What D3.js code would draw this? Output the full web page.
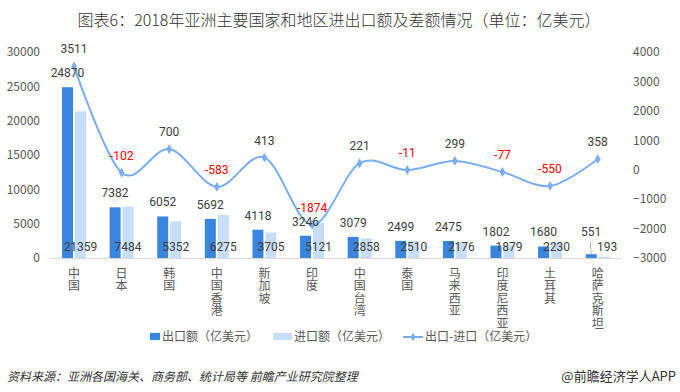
<!DOCTYPE html>
<html><head><meta charset="utf-8">
<script src="https://cdn.jsdelivr.net/npm/d3@7/dist/d3.min.js"></script>
<style>
body{margin:0;background:#fff;}
svg{display:block;font-family:"Noto Sans CJK SC","Noto Sans",sans-serif;}
.vt{writing-mode:vertical-rl;text-orientation:upright;}
</style></head>
<body>
<svg id="c" width="680" height="392"></svg>
<script>
const categories = ["中国","日本","韩国","中国香港","新加坡","印度","中国台湾","泰国","马来西亚","印度尼西亚","土耳其","哈萨克斯坦"];
const exportVals = [24870,7382,6052,5692,4118,3246,3079,2499,2475,1802,1680,551];
const importVals = [21359,7484,5352,6275,3705,5121,2858,2510,2176,1879,2230,193];
const balanceVals = [3511,-102,700,-583,413,-1874,221,-11,299,-77,-550,358];
const leftTicks = [0,5000,10000,15000,20000,25000,30000];
const rightTicks = [-3000,-2000,-1000,0,1000,2000,3000,4000];
const seriesNames = ["出口额（亿美元）","进口额（亿美元）","出口-进口（亿美元）"];
const titleText = "图表6：2018年亚洲主要国家和地区进出口额及差额情况（单位：亿美元）";
const sourceText = "资料来源：亚洲各国海关、商务部、统计局等 前瞻产业研究院整理";
const brandText = "@前瞻经济学人APP";

const C_EXP = "#3B84E0", C_IMP = "#C6DEF9", C_LINE = "#7AADEE", C_TXT = "#595959";
const NUM_FONT = "Roboto, 'Liberation Sans', sans-serif";
const svg = d3.select("#c");
const plotTop = 52, plotBottom = 258;
const x = d3.scaleBand().domain(categories).range([50.2, 621.5]).padding(0);
const yL = d3.scaleLinear().domain([0,30000]).range([plotBottom, plotTop]);
const yR = d3.scaleLinear().domain([-3000,4000]).range([plotBottom, plotTop]);
const bw = 11, gap = 2;

// title
svg.append("text").attr("x", 339).attr("y", 26).attr("text-anchor","middle")
  .attr("font-size", 16).attr("fill", "#333").attr("font-weight", 300).text(titleText);

// axes
const axL = svg.append("g").attr("transform", "translate(43,0)")
  .call(d3.axisLeft(yL).tickValues(leftTicks).tickSize(0).tickPadding(3).tickFormat(d3.format("d")));
const axR = svg.append("g").attr("transform", "translate(630,0)")
  .call(d3.axisRight(yR).tickValues(rightTicks).tickSize(0).tickPadding(3).tickFormat(d3.format("d")));
[axL, axR].forEach(a => {
  a.select(".domain").remove();
  a.selectAll("text").attr("font-size", 12).attr("fill", C_TXT).attr("font-family", '"Noto Sans CJK SC",sans-serif');
});
svg.append("line").attr("x1", 50.2).attr("x2", 621.5).attr("y1", plotBottom + 0.5).attr("y2", plotBottom + 0.5)
  .attr("stroke", "#D9D9D9").attr("stroke-width", 1);

// bars
const cx = d => x(d) + x.bandwidth() / 2;
svg.append("g").selectAll("rect").data(categories).join("rect")
  .attr("x", (d) => cx(d) - gap/2 - bw).attr("width", bw)
  .attr("y", (d,i) => yL(exportVals[i])).attr("height", (d,i) => plotBottom - yL(exportVals[i]))
  .attr("fill", C_EXP);
svg.append("g").selectAll("rect").data(categories).join("rect")
  .attr("x", (d) => cx(d) + gap/2).attr("width", bw)
  .attr("y", (d,i) => yL(importVals[i])).attr("height", (d,i) => plotBottom - yL(importVals[i]))
  .attr("fill", C_IMP);

// line
const pts = categories.map((c,i) => [cx(c), yR(balanceVals[i])]);
svg.append("path").attr("d", d3.line().curve(d3.curveCardinal.tension(0))(pts))
  .attr("fill", "none").attr("stroke", C_LINE).attr("stroke-width", 2);
svg.append("g").selectAll("path").data(pts).join("path")
  .attr("d", d3.symbol(d3.symbolDiamond, 28)).attr("transform", p => `translate(${p[0]},${p[1]})`)
  .attr("fill", C_LINE);

// labels
const lab = svg.append("g").attr("font-size", 12).attr("text-anchor", "middle").attr("font-family", NUM_FONT);
categories.forEach((c,i) => {
  const ex = cx(c) - gap/2 - bw/2, ix = cx(c) + gap/2 + bw/2;
  let ey = yL(exportVals[i]) - 10;
  if (i === categories.length - 1) {
    ey = 236;
    svg.append("line").attr("x1", ex - 1).attr("x2", ex).attr("y1", 241).attr("y2", 254)
      .attr("stroke", "#A6A6A6").attr("stroke-width", 0.8);
  }
  lab.append("text").attr("x", ex).attr("y", ey).attr("fill", "#404040").text(exportVals[i]);
  lab.append("text").attr("x", ix + (i === categories.length - 1 ? 3 : 0)).attr("y", 251).attr("fill", "#404040").text(importVals[i]);
  lab.append("text").attr("x", cx(c)).attr("y", yR(balanceVals[i]) - 13)
    .attr("fill", balanceVals[i] < 0 ? "#FF0000" : "#404040").text(balanceVals[i]);
});

// category labels (vertical)
svg.append("g").attr("font-size", 12).attr("fill", C_TXT)
  .selectAll("text").data(categories).join("text")
  .attr("class", "vt").attr("x", d => cx(d)).attr("y", 267)
  .attr("letter-spacing", 0.6).text(d => d);

// legend
const lg = svg.append("g").attr("font-size", 12).attr("fill", C_TXT);
lg.append("rect").attr("x", 150).attr("y", 333).attr("width", 10).attr("height", 7).attr("fill", C_EXP);
lg.append("text").attr("x", 162).attr("y", 341).text(seriesNames[0]);
lg.append("rect").attr("x", 273).attr("y", 333).attr("width", 19).attr("height", 7).attr("fill", C_IMP);
lg.append("text").attr("x", 294).attr("y", 341).text(seriesNames[1]);
lg.append("line").attr("x1", 403).attr("x2", 423).attr("y1", 337).attr("y2", 337).attr("stroke", C_LINE).attr("stroke-width", 2);
lg.append("path").attr("d", d3.symbol(d3.symbolDiamond, 22)).attr("transform", "translate(413,337)").attr("fill", C_LINE);
lg.append("text").attr("x", 425).attr("y", 341).text(seriesNames[2]);

// footer
svg.append("text").attr("x", 7).attr("y", 381).attr("font-size", 12).attr("font-style", "italic")
  .attr("fill", "#333").text(sourceText);
svg.append("text").attr("x", 676).attr("y", 381).attr("font-size", 13).attr("text-anchor", "end")
  .attr("fill", "#333").text(brandText);
</script>
</body></html>
